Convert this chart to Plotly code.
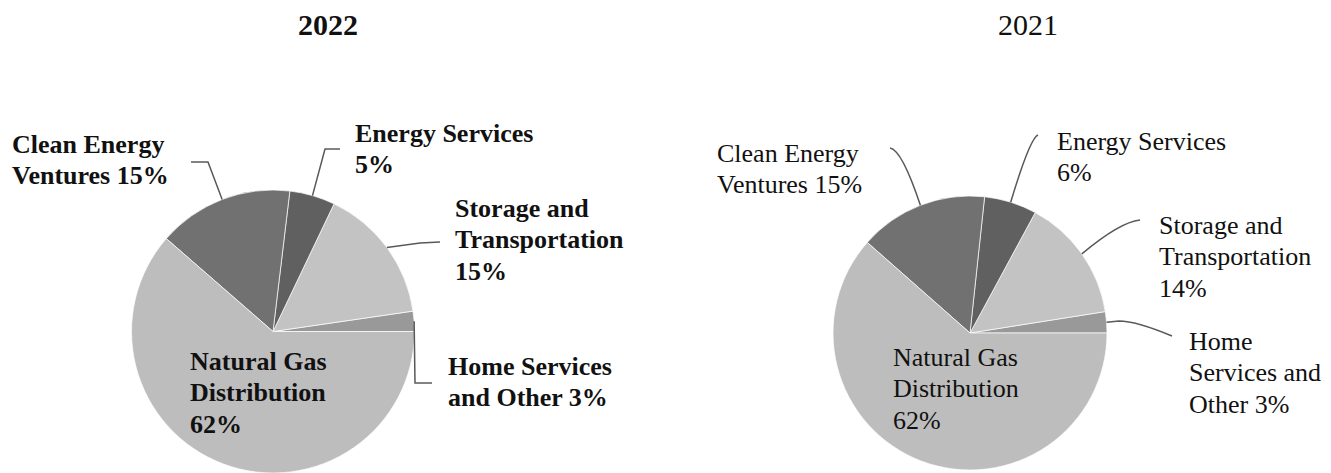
import math
import plotly.graph_objects as go

# ---------------- data ----------------
sectors = ["Home Services and Other", "Storage and Transportation", "Energy Services",
           "Clean Energy Ventures", "Natural Gas Distribution"]
values_2022 = [2.3, 15.6, 5.2, 15.5, 61.4]
values_2021 = [2.5, 14.6, 6.2, 15.2, 61.5]
pct_2022 = ["3%", "15%", "5%", "15%", "62%"]
pct_2021 = ["3%", "14%", "6%", "15%", "62%"]
years = ["2022", "2021"]

# ---------------- style / layout ----------------
OFF = 8  # page body margin: page px -> figure px
W, H = 1331 - OFF, 473 - OFF
colors = ["#999999", "#c3c3c3", "#606060", "#717171", "#bdbdbd"]
FONT = "Times New Roman, Liberation Serif, serif"
TXT = "#111111"
LINE_COL = "#595959"
FS = 26
LS = 31.5

# label wrapping templates ({p} = percentage)
wrap_left = ["Home Services|and Other {p}", "Storage and|Transportation|{p}",
             "Energy Services|{p}", "Clean Energy|Ventures {p}", "Natural Gas|Distribution|{p}"]
wrap_right = ["Home|Services and|Other {p}", "Storage and|Transportation|{p}",
              "Energy Services|{p}", "Clean Energy|Ventures {p}", "Natural Gas|Distribution|{p}"]
# label positions (page px): (left x, first baseline)
pos_left = [(448, 375), (455, 217), (355, 142), (12, 153), (190, 370)]
pos_right = [(1189, 350), (1159, 234), (1057, 150), (717, 162), (893, 366)]
# leader lines after the slice-edge start point (page px; None = no leader)
lead_left = [
    [("L", [(415, 383)]), ("L", [(432, 383)])],
    [("L", [(420, 243)]), ("L", [(440, 242)])],
    [("L", [(325, 149)]), ("L", [(340, 149)])],
    [("L", [(208, 162)]), ("L", [(191, 162)])],
    None,
]
lead_right = [
    [("L", [(1119, 321)]), ("Q", [(1136, 321), (1172, 336)])],
    [("Q", [(1120, 222), (1140, 220)])],
    [("Q", [(1030, 138), (1038, 135)])],
    [("Q", [(902, 150), (890, 148)])],
    None,
]

panels = [
    dict(values=values_2022, pct=pct_2022, wrap=wrap_left, pos=pos_left, lead=lead_left,
         center=(273, 332, 142), bold=True, title_x=328),
    dict(values=values_2021, pct=pct_2021, wrap=wrap_right, pos=pos_right, lead=lead_right,
         center=(970, 333, 137), bold=False, title_x=1028),
]


def px2paper(x, y):
    return (x - OFF) / W, 1 - (y - OFF) / H


def pie_geom(cx, cy, r):
    fx, fy = cx - OFF, cy - OFF
    x0, x1 = (fx - r) / W, (fx + r) / W
    y0 = max(0.0, (H - fy - r) / H)
    y1 = min(1.0, (H - fy + r) / H)
    dw, dh = (x1 - x0) * W, (y1 - y0) * H
    rr = min(dw, dh) / 2
    ccx = (x0 + x1) / 2 * W + OFF
    ccy = H - (y0 + y1) / 2 * H + OFF
    return dict(x=[x0, x1], y=[y0, y1]), ccx, ccy, rr


fig = go.Figure()
annotations = []
shapes = []


def add_line_text(x, baseline, text, bold, size, anchor="left"):
    t = f"<b>{text}</b>" if bold else text
    top = baseline - 0.891 * size
    xp, yp = px2paper(x, top)
    annotations.append(dict(x=xp, y=yp, xref="paper", yref="paper", text=t,
                            showarrow=False, xanchor=anchor, yanchor="top",
                            borderpad=0, borderwidth=0,
                            font=dict(family=FONT, size=size, color=TXT)))


for k, p in enumerate(panels):
    dom, cx, cy, r = pie_geom(*p["center"])
    total = sum(p["values"])
    # plotly places the first slice clockwise of `rotation` for counterclockwise pies;
    # shift so the first slice starts at 3 o'clock and runs counterclockwise
    rot = 90 - p["values"][0] / total * 360
    fig.add_trace(go.Pie(labels=sectors, values=p["values"], sort=False,
                         direction="counterclockwise", rotation=rot,
                         marker=dict(colors=colors, line=dict(color="#ffffff", width=0.7)),
                         textinfo="none", hoverinfo="label+percent", domain=dom,
                         showlegend=False))
    cum = 0.0
    for i, v in enumerate(p["values"]):
        mid = (cum + v / 2) / total
        cum += v
        a = math.radians(mid * 360)
        sx, sy = cx + r * math.cos(a), cy - r * math.sin(a)
        lines = p["wrap"][i].format(p=p["pct"][i]).split("|")
        lx, lb = p["pos"][i]
        for j, ln in enumerate(lines):
            add_line_text(lx, lb + j * LS, ln, p["bold"], FS)
        segs = p["lead"][i]
        if segs:
            X, Y = px2paper(sx, sy)
            path = f"M {X:.5f},{Y:.5f}"
            for cmd, pts in segs:
                path += " " + cmd + " " + " ".join(
                    "{:.5f},{:.5f}".format(*px2paper(qx, qy)) for qx, qy in pts)
            shapes.append(dict(type="path", path=path, xref="paper", yref="paper",
                               line=dict(color=LINE_COL, width=1.5)))
    add_line_text(p["title_x"], 35, years[k], p["bold"], 30, anchor="center")

fig.update_layout(width=W, height=H, margin=dict(l=0, r=0, t=0, b=0),
                  paper_bgcolor="white", plot_bgcolor="white",
                  annotations=annotations, shapes=shapes, showlegend=False)
fig.write_html("out.html")
